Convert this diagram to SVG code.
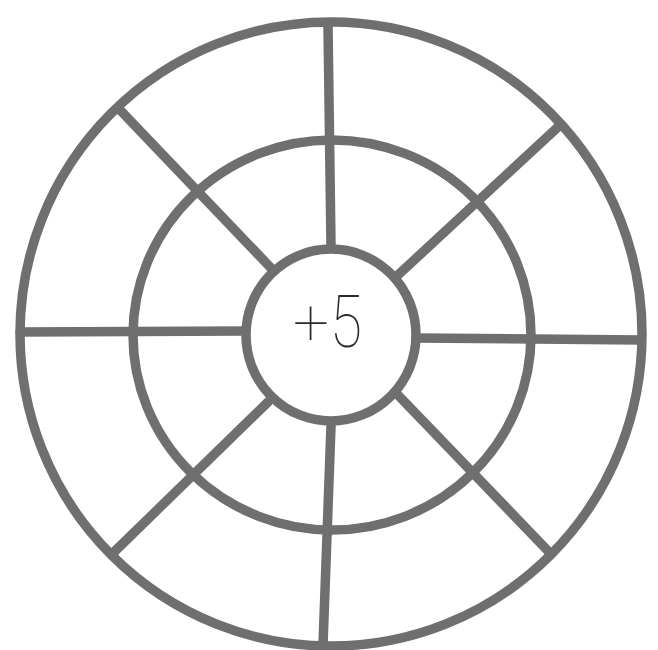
<svg xmlns="http://www.w3.org/2000/svg" width="658" height="650" viewBox="0 0 658 650">
<style>
.s{fill:none;stroke:#6f6f6f;stroke-width:9.5;stroke-linecap:round}
.t{font-family:"Roboto","Inter","Liberation Sans",sans-serif;font-weight:100;fill:#2a2a2a}
</style>
<rect width="658" height="650" fill="#fff"/>
<g id="connectors">
<path class="s" d="M328 26 L331 246"/>
<path class="s" d="M331 426 L323 645"/>
<path class="s" d="M20 332 L246 331"/>
<path class="s" d="M416 338 L641 340"/>
<path class="s" d="M121 111 L271 268"/>
<path class="s" d="M558 127 L398 275"/>
<path class="s" d="M112 554 L268 402"/>
<path class="s" d="M549 552 L396 393"/>
</g>
<g id="outer-ring"><ellipse class="s" cx="331" cy="334" rx="311" ry="312"/></g>
<g id="middle-ring"><ellipse class="s" cx="332" cy="335" rx="199" ry="195"/></g>
<g id="center"><ellipse class="s" cx="331" cy="335" rx="85" ry="86"/>
<text class="t" text-anchor="middle" x="311" y="345" font-size="64">+</text>
<text class="t" text-anchor="middle" transform="translate(346 347) scale(0.82 1)" font-size="72">5</text></g>
</svg>
